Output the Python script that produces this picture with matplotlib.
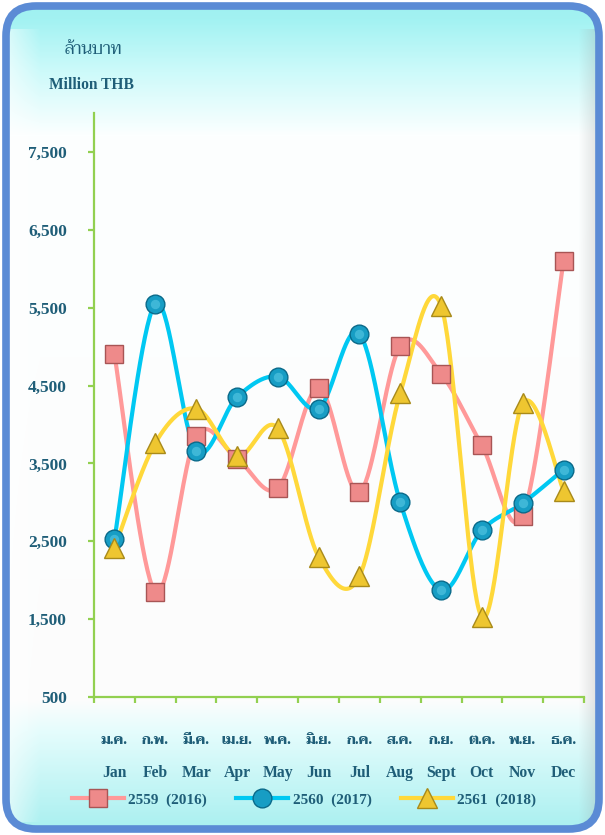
import numpy as np
import matplotlib
matplotlib.use("Agg")
import matplotlib.pyplot as plt
from matplotlib.patches import FancyBboxPatch
from matplotlib.lines import Line2D

# ---- data ----
months_th = ["ม.ค.", "ก.พ.", "มี.ค.", "เม.ย.", "พ.ค.", "มิ.ย.",
             "ก.ค.", "ส.ค.", "ก.ย.", "ต.ค.", "พ.ย.", "ธ.ค."]
months_en = ["Jan", "Feb", "Mar", "Apr", "May", "Jun",
             "Jul", "Aug", "Sept", "Oct", "Nov", "Dec"]
y2016 = [4900, 1850, 3850, 3560, 3180, 4470, 3130, 5010, 4650, 3730, 2830, 6100]
y2017 = [2525, 5550, 3665, 4350, 4615, 4205, 5165, 3000, 1870, 2640, 2990, 3420]
y2018 = [2410, 3760, 4205, 3590, 3950, 2300, 2050, 4400, 5525, 1525, 4270, 3150]
series_labels = ["2559  (2016)", "2560  (2017)", "2561  (2018)"]
yticks = [500, 1500, 2500, 3500, 4500, 5500, 6500, 7500]

TEXT = "#1F5E78"
GREEN = "#92D050"
FONT = ["Liberation Serif", "FreeSerif"]
THAI = ["Taviraj", "FreeSerif"]

W, H = 605, 835
fig = plt.figure(figsize=(W / 100, H / 100), dpi=100)

# ---- background panel ----
bg = fig.add_axes([0, 0, 1, 1])
bg.set_xlim(0, W)
bg.set_ylim(H, 0)
bg.axis("off")

rows = np.arange(H)
keys_y = [0, 20, 70, 135, 700, 730, 830, H]
keys_c = np.array([
    [0.62, 0.94, 0.94],
    [0.64, 0.95, 0.95],
    [0.80, 0.98, 0.98],
    [0.99, 1.00, 1.00],
    [0.99, 0.99, 0.99],
    [0.90, 0.99, 0.99],
    [0.66, 0.94, 0.94],
    [0.66, 0.94, 0.94],
])
col = np.stack([np.interp(rows, keys_y, keys_c[:, k]) for k in range(3)], axis=1)
img = np.repeat(col[:, None, :], W, axis=1)
xs = np.arange(W)
w = np.clip((xs - 578) / 20.0, 0, 1) * 0.33
grey = np.array([0.62, 0.64, 0.64])
mask_y = (rows > 28) & (rows < 822)
img[mask_y] = img[mask_y] * (1 - w[None, :, None]) + grey * w[None, :, None]
# soft light glow along the left edge
wl = np.clip((40 - xs) / 30.0, 0, 1) * 0.5
img[mask_y] = img[mask_y] * (1 - wl[None, :, None]) + 1.0 * wl[None, :, None]

im = bg.imshow(img, extent=(0, W, H, 0), aspect="auto", zorder=0)
box = FancyBboxPatch((6, 6), W - 12, H - 12,
                     boxstyle="round,pad=0,rounding_size=30",
                     transform=bg.transData, facecolor="none",
                     edgecolor="#5B8BD5", linewidth=5.5, zorder=2)
bg.add_patch(box)
im.set_clip_path(box)

fig.text(65 / W, 1 - 50 / H, "ล้านบาท", family=THAI, fontsize=12,
         color=TEXT, va="center", ha="left")
fig.text(49 / W, 1 - 85 / H, "Million THB", family=FONT, fontsize=11.2,
         fontweight="bold", color=TEXT, va="center", ha="left")


# ---- smoothed line (Excel-style Catmull-Rom Bezier) ----
def smooth(x, y, n=40):
    p = np.column_stack([x, y]).astype(float)
    p = np.vstack([p[0], p, p[-1]])
    out = []
    t = np.linspace(0, 1, n)[:, None]
    for i in range(1, len(p) - 2):
        p0, p1 = p[i], p[i + 1]
        c1 = p0 + (p[i + 1] - p[i - 1]) / 6.0
        c2 = p1 - (p[i + 2] - p[i]) / 6.0
        seg = ((1 - t) ** 3) * p0 + 3 * ((1 - t) ** 2) * t * c1 \
            + 3 * (1 - t) * t ** 2 * c2 + t ** 3 * p1
        out.append(seg if i == 1 else seg[1:])
    s = np.vstack(out)
    return s[:, 0], s[:, 1]


# ---- chart ----
ax = fig.add_axes([94 / W, 1 - 697 / H, 490 / W, 584 / H])
ax.patch.set_alpha(0)
x = np.arange(len(months_en))

styles = [
    dict(data=y2016, line="#FF9999", marker="s", mfc="#EE8A8A", mec="#A85555",
         ms=12.5, hi=None),
    dict(data=y2017, line="#00C8F2", marker="o", mfc="#179DC4", mec="#0A6A8A",
         ms=13.5, hi="#6FD8F0"),
    dict(data=y2018, line="#FFD83A", marker="^", mfc="#EEC630", mec="#A88A1A",
         ms=14.5, hi=None),
]
handles = []
for k, st in enumerate(styles):
    sx, sy = smooth(x, st["data"])
    ax.plot(sx, sy, color=st["line"], lw=3, zorder=2 + k, solid_capstyle="round")
    ax.plot(x, st["data"], ls="none", marker=st["marker"], ms=st["ms"],
            mfc=st["mfc"], mec=st["mec"], mew=1.0, zorder=5 + k)
    if st["hi"]:
        ax.plot(x, st["data"], ls="none", marker=st["marker"], ms=st["ms"] * 0.5,
                mfc=st["hi"], mec="none", alpha=0.45, zorder=5 + k)
    handles.append(Line2D([0], [0], color=st["line"], lw=3, marker=st["marker"],
                          ms=st["ms"], mfc=st["mfc"], mec=st["mec"], mew=1.0))

ax.set_xlim(-0.5, 11.5)
ax.set_ylim(500, 8000)
for s in ["top", "right"]:
    ax.spines[s].set_visible(False)
for s in ["left", "bottom"]:
    ax.spines[s].set_color(GREEN)
    ax.spines[s].set_linewidth(1.6)

ax.set_yticks(yticks)
ax.set_yticklabels([f"{v:,}" for v in yticks], family=FONT, fontsize=12.5,
                   fontweight="bold", color=TEXT)
ax.tick_params(axis="y", direction="out", length=4.5, width=1.6, color=GREEN, pad=15)
ax.set_xticks(np.arange(-0.5, 12, 1.0))
ax.set_xticklabels([])
ax.tick_params(axis="x", direction="out", length=4.5, width=1.6, color=GREEN)

for i in range(len(months_en)):
    ax.text(i, (697 - 741) / 584, months_th[i], transform=ax.get_xaxis_transform(),
            ha="center", va="center", family=THAI, fontsize=10,
            fontweight="bold", color=TEXT)
    ax.text(i, (697 - 773) / 584, months_en[i], transform=ax.get_xaxis_transform(),
            ha="center", va="center", family=FONT, fontsize=11.3,
            fontweight="bold", color=TEXT)

leg = fig.legend(handles, series_labels, loc="center", ncol=3,
                 bbox_to_anchor=(304 / W, 1 - 800 / H), frameon=False,
                 handlelength=3.4, handletextpad=0.3, columnspacing=1.9,
                 numpoints=1, prop=dict(family=FONT, size=11, weight="bold"))
for t in leg.get_texts():
    t.set_color(TEXT)

fig.savefig("out.png", dpi=100)
